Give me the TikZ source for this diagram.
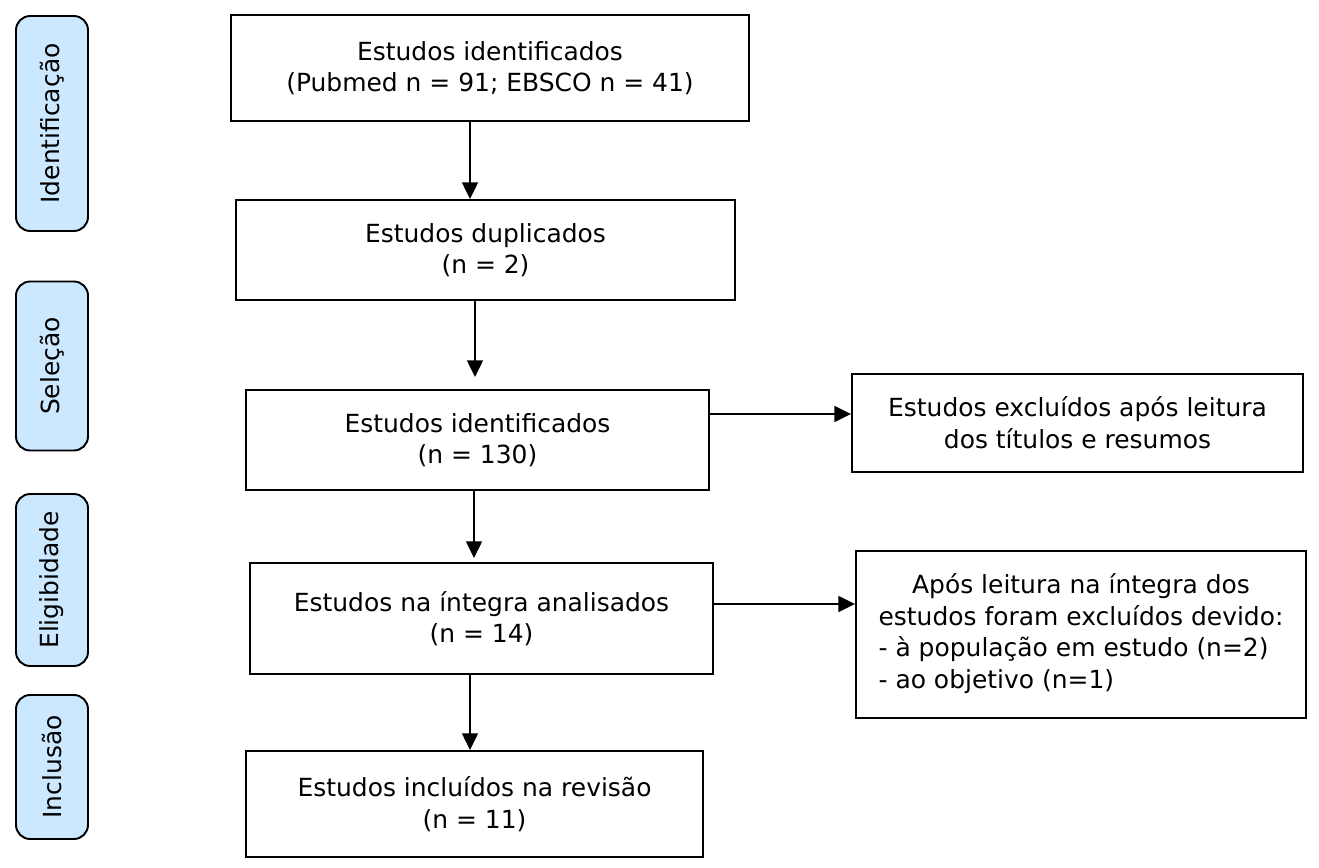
\documentclass[tikz,border=0pt]{standalone}
\usepackage{fontspec}
\setmainfont{DejaVu Sans}
\usepackage{tikz}
\usetikzlibrary{arrows.meta,calc,positioning}
\definecolor{fasecor}{RGB}{204,232,255}

\begin{document}
\begin{tikzpicture}[x=0.02cm,y=-0.02cm,
  caixa/.style={draw,line width=1.1pt,inner sep=0pt,align=center,font=\fontsize{14.2}{18}\selectfont},
  fase/.style={draw,line width=1.1pt,rounded corners=8pt,fill=fasecor,inner sep=0pt,minimum width=1.44cm,rotate=90,font=\fontsize{14.2}{18}\selectfont},
  seta/.style={line width=1.1pt,-{Triangle[length=9.5pt,width=9pt]}}]
\useasboundingbox (0,0) rectangle (1319,868);
% fases
\node[fase,minimum height=1.44cm,minimum width=4.3cm] (id) at (52,123.5) {Identificação};
\node[fase,minimum height=1.44cm,minimum width=3.38cm] (sel) at (52,366) {Seleção};
\node[fase,minimum height=1.44cm,minimum width=3.44cm] (eleg) at (52,580) {Eligibidade};
\node[fase,minimum height=1.44cm,minimum width=2.88cm] (incl) at (52,767) {Inclusão};
% caixas
\node[caixa,minimum width=10.36cm,minimum height=2.12cm] (ident) at (490,68) {Estudos identificados\\(Pubmed n = 91; EBSCO n = 41)};
\node[caixa,minimum width=9.98cm,minimum height=2cm] (dupl) at (485.5,250) {Estudos duplicados\\(n = 2)};
\node[caixa,minimum width=9.26cm,minimum height=2cm] (triag) at (477.5,440) {Estudos identificados\\(n = 130)};
\node[caixa,minimum width=9.02cm,minimum height=1.96cm] (excl1) at (1077.5,423) {Estudos excluídos após leitura\\dos títulos e resumos};
\node[caixa,minimum width=9.26cm,minimum height=2.22cm] (integ) at (481.5,618.5) {Estudos na íntegra analisados\\(n = 14)};
\node[caixa,minimum width=9cm,minimum height=3.34cm] (excl2) at (1081,634.5) {\begin{tabular}{@{}l@{}}\multicolumn{1}{@{}c@{}}{Após leitura na íntegra dos}\\estudos foram excluídos devido:\\- à população em estudo (n=2)\\- ao objetivo (n=1)\end{tabular}};
\node[caixa,minimum width=9.14cm,minimum height=2.12cm] (incluid) at (474.5,804) {Estudos incluídos na revisão\\(n = 11)};
% setas
\draw[seta] (ident.south -| 470,0) -- (dupl.north -| 470,0);
\draw[seta] (dupl.south -| 475,0) -- ($(triag.north -| 475,0)+(0,-12)$);
\draw[seta] (triag.south -| 474,0) -- ($(integ.north -| 474,0)+(0,-4)$);
\draw[seta] (integ.south -| 470,0) -- (incluid.north -| 470,0);
\draw[seta] (triag.east |- 0,414) -- (excl1.west |- 0,414);
\draw[seta] (integ.east |- 0,604) -- (excl2.west |- 0,604);
\end{tikzpicture}
\end{document}
